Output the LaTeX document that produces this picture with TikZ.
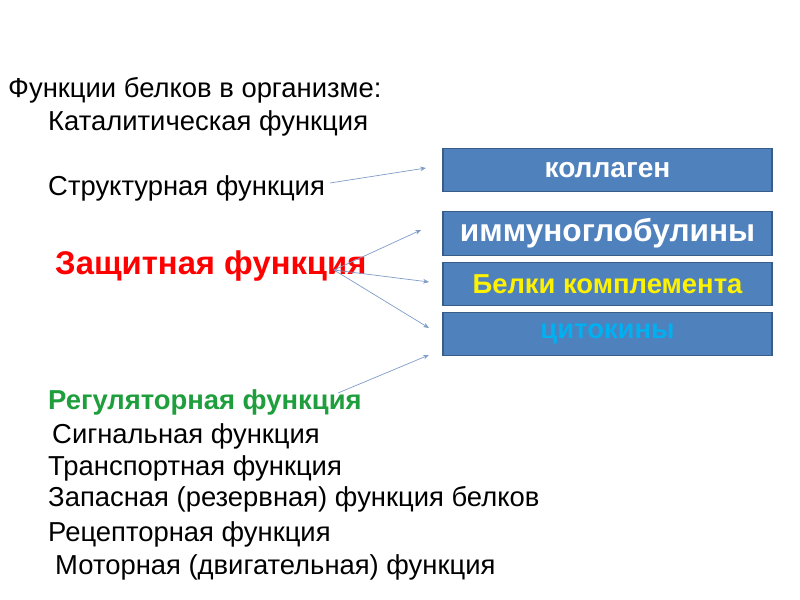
\documentclass[tikz,border=0pt]{standalone}
\usepackage{fontspec}
\setmainfont{Liberation Sans}
\usetikzlibrary{arrows.meta}
\definecolor{boxblue}{HTML}{4F81BD}
\definecolor{boxline}{HTML}{385D8A}
\definecolor{arrowcol}{HTML}{7F9CC8}
\definecolor{regreen}{HTML}{1E9E3C}
\definecolor{cyto}{HTML}{00B0F0}
\begin{document}
\begin{tikzpicture}[
        x=0.03cm, y=-0.03cm,
        txt/.style={anchor=base west, inner sep=0pt, font=\fontsize{23.4}{25}\selectfont},
        box/.style={draw=boxline, line width=1pt, fill=boxblue, minimum width=9.87cm, minimum height=1.3cm, font=\bfseries\fontsize{23.4}{25}\selectfont},
        link/.style={draw=arrowcol, line width=0.6pt, -{Stealth[length=5pt,width=4pt]}}
    ]
        \useasboundingbox (0,0) rectangle (800,600);

        \node[txt] (title) at (8,98) {Функции белков в организме:};
        \node[txt] (catal) at (48,131) {Каталитическая функция};
        \node[txt] (struct) at (48,196) {Структурная функция};
        \node[txt, text=red, font=\bfseries\fontsize{28}{30}\selectfont] (defense) at (55,275) {Защитная функция};
        \node[txt, text=regreen, font=\bfseries\fontsize{23.4}{25}\selectfont] (regul) at (48,410) {Регуляторная функция};
        \node[txt] (signal) at (52,444) {Сигнальная функция};
        \node[txt] (transp) at (48,476) {Транспортная функция};
        \node[txt] (reserve) at (48,507) {Запасная (резервная) функция белков};
        \node[txt] (recept) at (48,542) {Рецепторная функция};
        \node[txt] (motor) at (55,575) {Моторная (двигательная) функция};

        \node[box, text=white, font=\bfseries\fontsize{24}{26}\selectfont] (collagen) at (607.5,170) {коллаген};
        \node[box, text=white, font=\bfseries\fontsize{27}{28}\selectfont] (immuno) at (607.5,233.5) {иммуноглобулины};
        \node[box, text=yellow] (complement) at (607.5,284) {Белки комплемента};
        \node[box, text=cyto] (cytokine) at (607.5,334) {цитокины};

        \coordinate (s1) at (330,183);
        \coordinate (e1) at (426,168);
        \coordinate (s2) at (334,270);
        \coordinate (e2) at (421,230);
        \coordinate (e3) at (429,282);
        \coordinate (e4) at (429,328);
        \coordinate (s5) at (338,393);
        \coordinate (e5) at (429,355);

        \draw[link] (s1) -- (e1);
        \draw[link] (s2) -- (e2);
        \draw[link] (s2) -- (e3);
        \draw[link] (s2) -- (e4);
        \draw[link] (s5) -- (e5);
    \end{tikzpicture}
\end{document}
